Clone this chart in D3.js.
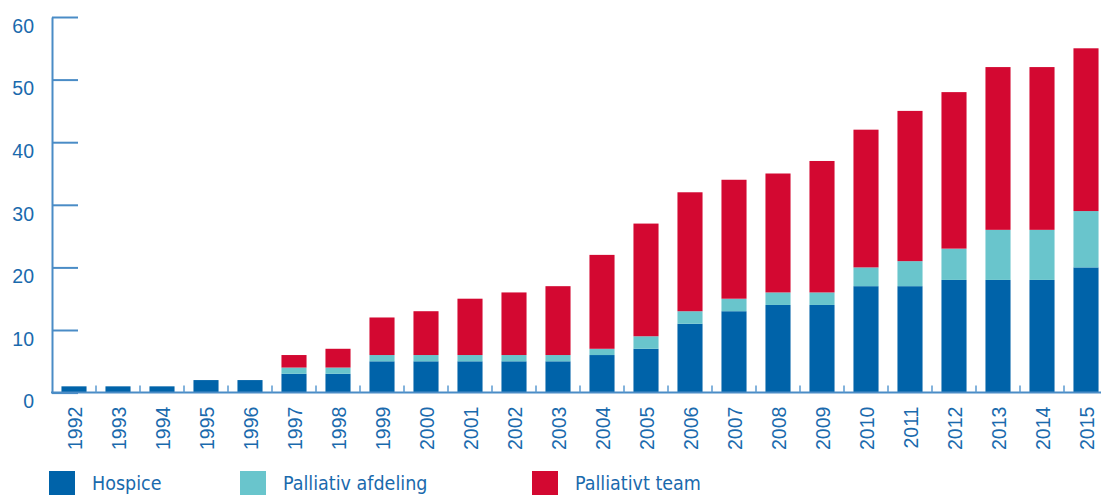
<!DOCTYPE html>
<html>
<head>
<meta charset="utf-8">
<script src="https://cdn.jsdelivr.net/npm/d3@7"></script>
<style>
  body { margin: 0; background: #fff; }
  svg { display: block; font-family: "DejaVu Sans Condensed", "DejaVu Sans", sans-serif; }
</style>
</head>
<body>
<div id="chart"></div>
<script>
// Data
const years = ["1992","1993","1994","1995","1996","1997","1998","1999","2000","2001","2002","2003",
               "2004","2005","2006","2007","2008","2009","2010","2011","2012","2013","2014","2015"];
const hospice    = [1,1,1,2,2,3,3,5,5,5,5,5,6,7,11,13,14,14,17,17,18,18,18,20];
const afdeling   = [0,0,0,0,0,1,1,1,1,1,1,1,1,2,2,2,2,2,3,4,5,8,8,9];
const team       = [0,0,0,0,0,2,3,6,7,9,10,11,15,18,19,19,19,21,22,24,25,26,26,26];
const seriesKeys = ["Hospice", "Palliativ afdeling", "Palliativt team"];
const seriesColors = ["#0063a9", "#69c5cc", "#d30831"];
const yTicks = [0,10,20,30,40,50,60];

const width = 1101, height = 495;
const axisX = 52, y0 = 392.6, yTop = 17;
const textColor = "#1a6aad", axisColor = "#4a8cc6";

const rows = years.map((yr, i) => ({
    year: yr,
    "Hospice": hospice[i],
    "Palliativ afdeling": afdeling[i],
    "Palliativt team": team[i]
}));

const svg = d3.select("#chart")
    .append("svg")
    .attr("width", width)
    .attr("height", height);

const x = d3.scaleBand()
    .domain(years)
    .range([axisX, axisX + 44 * years.length])
    .paddingInner(0.43)
    .paddingOuter(0.215);

const y = d3.scaleLinear()
    .domain([0, 60])
    .range([y0, yTop]);

const color = d3.scaleOrdinal()
    .domain(seriesKeys)
    .range(seriesColors);

// Stacked bars
const stacked = d3.stack().keys(seriesKeys)(rows);

svg.append("g")
    .selectAll("g")
    .data(stacked)
    .enter()
    .append("g")
    .attr("fill", d => color(d.key))
    .selectAll("rect")
    .data(d => d)
    .enter()
    .append("rect")
    .attr("x", d => x(d.data.year))
    .attr("y", d => y(d[1]))
    .attr("width", x.bandwidth())
    .attr("height", d => y(d[0]) - y(d[1]));

// Y axis (ticks point right, labels sit just under each tick)
const yAxis = svg.append("g")
    .attr("transform", `translate(${axisX},0)`)
    .call(d3.axisLeft(y).tickValues(yTicks).tickSizeInner(-26).tickSizeOuter(0).tickPadding(18));

yAxis.select(".domain").attr("stroke", axisColor).attr("stroke-width", 2);
yAxis.selectAll(".tick line").attr("stroke", axisColor).attr("stroke-width", 2);
yAxis.selectAll(".tick text")
    .attr("dy", "0.78em")
    .attr("fill", textColor)
    .style("font-size", "19.5px");

// Baseline
svg.append("line")
    .attr("x1", axisX - 1)
    .attr("x2", width)
    .attr("y1", y0)
    .attr("y2", y0)
    .attr("stroke", axisColor)
    .attr("stroke-width", 2);

// Small separators between bars
svg.append("g")
    .selectAll("line")
    .data(years.slice(1))
    .enter()
    .append("line")
    .attr("x1", d => x(d) - x.step() * x.paddingInner() / 2)
    .attr("x2", d => x(d) - x.step() * x.paddingInner() / 2)
    .attr("y1", y0 - 7)
    .attr("y2", y0)
    .attr("stroke", "#5b9ad0")
    .attr("stroke-width", 1.5);

// X axis labels, rotated
const xAxis = svg.append("g")
    .attr("transform", `translate(0,${y0})`)
    .call(d3.axisBottom(x).tickSize(0));

xAxis.select(".domain").remove();
xAxis.selectAll(".tick text")
    .attr("transform", "rotate(-90)")
    .attr("x", -14)
    .attr("y", 1.5)
    .attr("dy", "0.35em")
    .attr("text-anchor", "end")
    .attr("fill", textColor)
    .style("font-size", "19.5px");

// Legend
const legendX = [49, 240, 532];
const legend = svg.append("g")
    .selectAll("g")
    .data(seriesKeys)
    .enter()
    .append("g")
    .attr("transform", (d, i) => `translate(${legendX[i]},471)`);

legend.append("rect")
    .attr("width", 26)
    .attr("height", 26)
    .attr("fill", d => color(d));

legend.append("text")
    .attr("x", 43)
    .attr("y", 19)
    .attr("fill", textColor)
    .style("font-size", "19.5px")
    .text(d => d);
</script>
</body>
</html>
